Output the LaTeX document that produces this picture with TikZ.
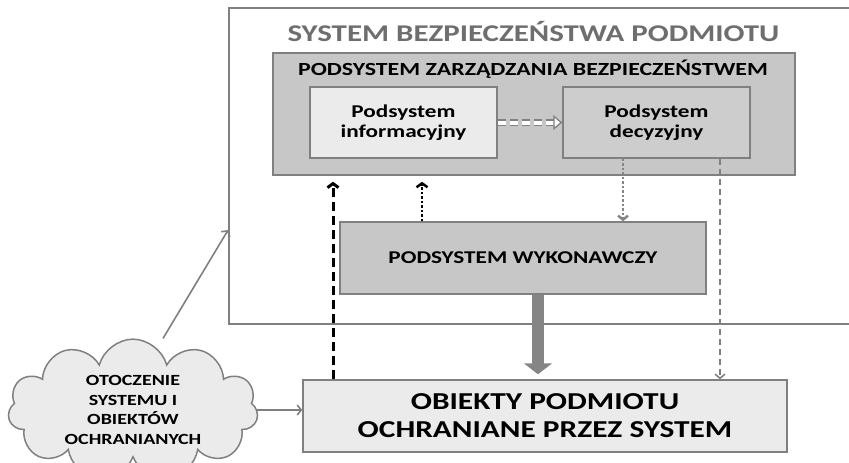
\documentclass[tikz,border=0pt]{standalone}
\usepackage{fontspec}
\setmainfont{Carlito}[FakeStretch=1.29]
\usetikzlibrary{shapes.symbols,arrows.meta}

\definecolor{ramka}{gray}{0.50}
\definecolor{tytul}{gray}{0.43}
\definecolor{ciemny}{gray}{0.78}
\definecolor{jasny}{gray}{0.92}
\definecolor{strzalka}{gray}{0.52}

\begin{document}
\begin{tikzpicture}[x=1pt, y=-1pt,
box/.style={draw=ramka, line width=1.5pt, inner sep=0pt, align=center, font=\bfseries\fontsize{18}{20}\selectfont},
conn/.style={ramka, line width=1.6pt, -{Straight Barb[length=4pt,width=10pt]}}]
\useasboundingbox (0,0) rectangle (849,463);
\clip (0,0) rectangle (849,463);
% system bezpieczenstwa
\node[box, line width=1.8pt, fill=white, minimum width=651pt, minimum height=316pt] (sys) at (554.5,166) {};
\node[anchor=base, text=tytul, font=\bfseries\fontsize{24}{26}\selectfont] (systyt) at (533.5,41) {SYSTEM BEZPIECZEŃSTWA PODMIOTU};
% podsystem zarzadzania
\node[box, fill=ciemny, minimum width=522pt, minimum height=122pt] (zarz) at (534,114) {};
\node[anchor=base, font=\bfseries\fontsize{18.5}{20}\selectfont] (zarztyt) at (533,75) {PODSYSTEM ZARZĄDZANIA BEZPIECZEŃSTWEM};
\node[box, fill=jasny, minimum width=187pt, minimum height=71pt] (info) at (403.5,122.5) {Podsystem\\informacyjny};
\node[box, fill=ciemny!90!white, minimum width=187pt, minimum height=71pt] (decyz) at (656.5,122.5) {Podsystem\\decyzyjny};
% wykonawczy i obiekty
\node[box, fill=ciemny, minimum width=366pt, minimum height=72pt] (wyk) at (523,258) {PODSYSTEM WYKONAWCZY};
\node[box, fill=jasny, minimum width=484pt, minimum height=72pt, font=\bfseries\fontsize{24.3}{28}\selectfont] (obj) at (545,416) {OBIEKTY PODMIOTU\\OCHRANIANE PRZEZ SYSTEM};
\node[cloud, cloud puffs=11, aspect=2.3, draw=ramka, line width=1.5pt, fill=jasny, minimum width=250pt, minimum height=108pt, inner sep=0pt, align=center, font=\bfseries\fontsize{15.5}{19.5}\selectfont] (otocz) at (133,410) {OTOCZENIE\\SYSTEMU I\\OBIEKTÓW\\OCHRANIANYCH};

% polaczenia
\draw[ramka, line width=1.3pt, double=white, double distance=4pt, dash pattern=on 8pt off 4pt, -{Triangle[open, fill=white, length=9pt, width=15pt]}] (info.east) -- (decyz.west);
\draw[line width=3pt, dash pattern=on 9pt off 5pt, -{Straight Barb[length=4pt,width=11pt]}, shorten >=6pt] (obj.north -| 333,0) -- (zarz.south -| 333,0);
\draw[line width=2.5pt, dotted, -{Straight Barb[length=4pt,width=11pt]}, shorten >=6pt] (wyk.north -| 422,0) -- (zarz.south -| 422,0);
\draw[conn, line width=2.5pt, dotted, strzalka] (decyz.south -| 623,0) -- (wyk.north -| 623,0);
\draw[conn, dash pattern=on 6pt off 4pt] (decyz.south -| 720,0) -- (obj.north -| 720,0);
\draw[strzalka, line width=12pt, -{Triangle[length=11pt, width=28pt]}, shorten >=5pt] (wyk.south -| 538,0) -- (obj.north -| 538,0);
\draw[conn] ([xshift=30pt]otocz.north) -- (sys.south west |- 0,230);
\draw[conn] (otocz.east) -- (obj.west |- otocz.east);
\end{tikzpicture}
\end{document}
